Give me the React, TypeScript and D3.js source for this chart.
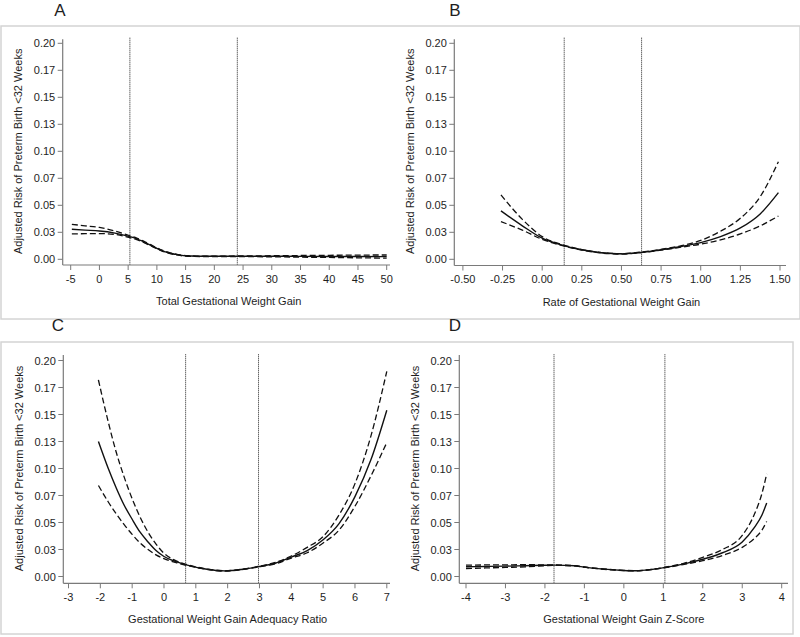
import React from "react";
import * as d3 from "d3";

// ---------- data ----------
const yTickValues = [0, 0.025, 0.05, 0.075, 0.1, 0.125, 0.15, 0.175, 0.2];
const yTickLabels = ["0.00", "0.03", "0.05", "0.07", "0.10", "0.13", "0.15", "0.17", "0.20"];
const yTitle = "Adjusted Risk of Preterm Birth <32 Weeks";

// Panel A: Total Gestational Weight Gain
const xTicksA = [-5, 0, 5, 10, 15, 20, 25, 30, 35, 40, 45, 50];
const xLabelsA = xTicksA.map(String);
const xA = [-4.8, -2.5, 0, 2.5, 5.3, 6.5, 7.6, 9, 10, 11, 12.3, 13.5, 14.6, 16, 17.5, 20, 25, 30, 35, 40, 45, 50];
const estA = [0.0278, 0.027, 0.0262, 0.0245, 0.021, 0.019, 0.0164, 0.0128, 0.0102, 0.0078, 0.0056, 0.0043, 0.0034, 0.003, 0.0028, 0.0028, 0.0028, 0.0028, 0.0027, 0.0026, 0.0026, 0.0025];
const loA = [0.0235, 0.0237, 0.0238, 0.0232, 0.02, 0.0183, 0.0158, 0.0123, 0.0098, 0.0074, 0.0053, 0.004, 0.0031, 0.0027, 0.0026, 0.0026, 0.0025, 0.0023, 0.002, 0.0017, 0.0014, 0.001];
const hiA = [0.0324, 0.031, 0.0295, 0.0265, 0.0218, 0.0197, 0.017, 0.0133, 0.0106, 0.0082, 0.0059, 0.0046, 0.0037, 0.0033, 0.003, 0.003, 0.0031, 0.0033, 0.0035, 0.0037, 0.0039, 0.004];
const refA = [5.3, 24];

// Panel B: Rate of Gestational Weight Gain
const xTicksB = [-0.5, -0.25, 0, 0.25, 0.5, 0.75, 1, 1.25, 1.5];
const xLabelsB = ["-0.50", "-0.25", "0.00", "0.25", "0.50", "0.75", "1.00", "1.25", "1.50"];
const xB = [-0.26, -0.125, 0, 0.14, 0.25, 0.375, 0.5, 0.62, 0.75, 0.875, 1.0, 1.125, 1.25, 1.375, 1.49];
const estB = [0.0448, 0.031, 0.0195, 0.0125, 0.0088, 0.006, 0.005, 0.0063, 0.0088, 0.0118, 0.0155, 0.021, 0.029, 0.042, 0.0617];
const loB = [0.0349, 0.027, 0.0185, 0.0122, 0.0086, 0.0058, 0.0048, 0.0061, 0.0085, 0.0112, 0.014, 0.018, 0.0235, 0.031, 0.0401];
const hiB = [0.0596, 0.037, 0.021, 0.013, 0.009, 0.0062, 0.0052, 0.0066, 0.0092, 0.0125, 0.0175, 0.026, 0.038, 0.058, 0.0904];
const refB = [0.139, 0.627];

// Panel C: Gestational Weight Gain Adequacy Ratio
const xTicksC = [-3, -2, -1, 0, 1, 2, 3, 4, 5, 6, 7];
const xLabelsC = xTicksC.map(String);
const xC = [-2.06, -1.75, -1.5, -1.25, -1, -0.75, -0.5, -0.25, 0, 0.35, 0.7, 1.3, 1.9, 2.5, 3, 3.5, 4, 4.5, 5, 5.5, 6, 6.5, 7];
const estC = [0.125, 0.1, 0.082, 0.066, 0.053, 0.041, 0.032, 0.024, 0.0185, 0.014, 0.0108, 0.007, 0.0052, 0.0068, 0.0093, 0.0123, 0.018, 0.024, 0.034, 0.049, 0.074, 0.108, 0.154];
const hiC = [0.182, 0.143, 0.115, 0.092, 0.072, 0.055, 0.041, 0.03, 0.0215, 0.015, 0.0112, 0.0072, 0.0054, 0.007, 0.0096, 0.013, 0.019, 0.027, 0.037, 0.057, 0.086, 0.13, 0.19];
const loC = [0.0843, 0.069, 0.058, 0.048, 0.039, 0.031, 0.025, 0.02, 0.0165, 0.013, 0.0104, 0.0068, 0.005, 0.0066, 0.009, 0.0118, 0.017, 0.022, 0.031, 0.043, 0.065, 0.093, 0.124];
const refC = [0.68, 2.97];

// Panel D: Gestational Weight Gain Z-Score
const xTicksD = [-4, -3, -2, -1, 0, 1, 2, 3, 4];
const xLabelsD = xTicksD.map(String);
const xD = [-4, -3.5, -3, -2.5, -2, -1.75, -1.25, -1, -0.5, 0, 0.3, 0.7, 1.05, 1.5, 2, 2.5, 3, 3.3, 3.5, 3.62];
const estD = [0.009, 0.0093, 0.0096, 0.01, 0.0104, 0.0105, 0.0099, 0.0087, 0.0068, 0.0056, 0.0053, 0.0065, 0.0084, 0.0115, 0.016, 0.022, 0.032, 0.045, 0.057, 0.068];
const hiD = [0.0105, 0.0107, 0.0108, 0.0109, 0.0108, 0.0107, 0.01, 0.0088, 0.0069, 0.0057, 0.0054, 0.0066, 0.0086, 0.012, 0.0177, 0.025, 0.038, 0.057, 0.077, 0.095];
const loD = [0.0074, 0.0079, 0.0084, 0.009, 0.0099, 0.0103, 0.0098, 0.0086, 0.0067, 0.0055, 0.0052, 0.0064, 0.0082, 0.011, 0.0146, 0.0195, 0.027, 0.035, 0.043, 0.051];
const refD = [-1.77, 1.04];

// ---------- layout ----------
const FONT = "'Liberation Sans', Arial, sans-serif";
const AXIS = "#7a7a7a";
const TEXT = "#1e1e1e";

type PanelProps = {
  letter: string;
  letterX: number;
  letterY: number;
  xTitle: string;
  xDomain: [number, number];
  xRange: [number, number];
  yRange: [number, number];
  yAxisX: number;
  xAxisY: number;
  yAxisTop: number;
  xAxisRight: number;
  vTop: number;
  xTicks: number[];
  xLabels: string[];
  xs: number[];
  est: number[];
  lo: number[];
  hi: number[];
  refs: number[];
};

function Panel(p: PanelProps) {
  const x = d3.scaleLinear().domain(p.xDomain).range(p.xRange);
  const y = d3.scaleLinear().domain([0, 0.2]).range(p.yRange);
  const mk = (vals: number[]) =>
    d3
      .line<number>()
      .x((_, i) => x(p.xs[i]))
      .y((d) => y(d))
      .curve(d3.curveMonotoneX)(vals) || "";
  const xMid = (p.xRange[0] + p.xRange[1]) / 2;
  const yMid = (p.yRange[0] + p.yRange[1]) / 2;
  return (
    <g>
      <text x={p.letterX} y={p.letterY} fontSize={17} fontFamily={FONT} fill={TEXT} textAnchor="middle">
        {p.letter}
      </text>
      {p.refs.map((r, i) => (
        <line
          key={"r" + i}
          x1={x(r)}
          x2={x(r)}
          y1={p.vTop}
          y2={p.xAxisY}
          stroke="#222"
          strokeWidth={1}
          strokeDasharray="1,1"
        />
      ))}
      <line x1={p.yAxisX} x2={p.yAxisX} y1={p.yAxisTop} y2={p.xAxisY} stroke={AXIS} strokeWidth={1.2} />
      <line x1={p.yAxisX} x2={p.xAxisRight} y1={p.xAxisY} y2={p.xAxisY} stroke={AXIS} strokeWidth={1.2} />
      {yTickValues.map((v, i) => (
        <g key={"y" + i}>
          <line x1={p.yAxisX - 5} x2={p.yAxisX} y1={y(v)} y2={y(v)} stroke={AXIS} strokeWidth={1} />
          <text x={p.yAxisX - 7.5} y={y(v) + 4} fontSize={11} fontFamily={FONT} fill={TEXT} textAnchor="end">
            {yTickLabels[i]}
          </text>
        </g>
      ))}
      {p.xTicks.map((v, i) => (
        <g key={"x" + i}>
          <line x1={x(v)} x2={x(v)} y1={p.xAxisY} y2={p.xAxisY + 5} stroke={AXIS} strokeWidth={1} />
          <text x={x(v)} y={p.xAxisY + 17.5} fontSize={11} fontFamily={FONT} fill={TEXT} textAnchor="middle">
            {p.xLabels[i]}
          </text>
        </g>
      ))}
      <text x={xMid} y={p.xAxisY + 40} fontSize={11} fontFamily={FONT} fill={TEXT} textAnchor="middle">
        {p.xTitle}
      </text>
      <text
        transform={`translate(${p.yAxisX - 40.5},${yMid}) rotate(-90)`}
        fontSize={11}
        fontFamily={FONT}
        fill={TEXT}
        textAnchor="middle"
      >
        {yTitle}
      </text>
      <path d={mk(p.hi)} fill="none" stroke="#111" strokeWidth={1.3} strokeDasharray="6,3" />
      <path d={mk(p.lo)} fill="none" stroke="#111" strokeWidth={1.3} strokeDasharray="6,3" />
      <path d={mk(p.est)} fill="none" stroke="#111" strokeWidth={1.4} />
    </g>
  );
}

export default function App() {
  return (
    <svg width={800} height={637} style={{ position: "absolute", left: 0, top: 0, background: "#fff" }}>
      <rect x={0} y={0} width={800} height={637} fill="#fff" />
      <rect x={1} y={26} width={799} height={293} fill="none" stroke="#d4d4d4" strokeWidth={1.5} />
      <rect x={1} y={342} width={792} height={292} fill="none" stroke="#d4d4d4" strokeWidth={1.5} />
      <Panel
        letter="A" letterX={60} letterY={16}
        xTitle="Total Gestational Weight Gain"
        xDomain={[-5, 50]} xRange={[70.7, 386.7]} yRange={[259.3, 43.3]}
        yAxisX={62.7} xAxisY={265} yAxisTop={39.3} xAxisRight={390} vTop={37.7}
        xTicks={xTicksA} xLabels={xLabelsA} xs={xA} est={estA} lo={loA} hi={hiA} refs={refA}
      />
      <Panel
        letter="B" letterX={455} letterY={16}
        xTitle="Rate of Gestational Weight Gain"
        xDomain={[-0.5, 1.5]} xRange={[462.9, 780]} yRange={[259.3, 43.3]}
        yAxisX={454.3} xAxisY={265.5} yAxisTop={39.3} xAxisRight={786} vTop={37.7}
        xTicks={xTicksB} xLabels={xLabelsB} xs={xB} est={estB} lo={loB} hi={hiB} refs={refB}
      />
      <Panel
        letter="C" letterX={58} letterY={331}
        xTitle="Gestational Weight Gain Adequacy Ratio"
        xDomain={[-3, 7]} xRange={[68.5, 386.8]} yRange={[576.5, 360.5]}
        yAxisX={63.3} xAxisY={583.3} yAxisTop={355} xAxisRight={390} vTop={354.3}
        xTicks={xTicksC} xLabels={xLabelsC} xs={xC} est={estC} lo={loC} hi={hiC} refs={refC}
      />
      <Panel
        letter="D" letterX={455} letterY={331}
        xTitle="Gestational Weight Gain Z-Score"
        xDomain={[-4, 4]} xRange={[466, 781.7]} yRange={[576.5, 360.5]}
        yAxisX={459.3} xAxisY={583.3} yAxisTop={355} xAxisRight={788} vTop={354.3}
        xTicks={xTicksD} xLabels={xLabelsD} xs={xD} est={estD} lo={loD} hi={hiD} refs={refD}
      />
    </svg>
  );
}
